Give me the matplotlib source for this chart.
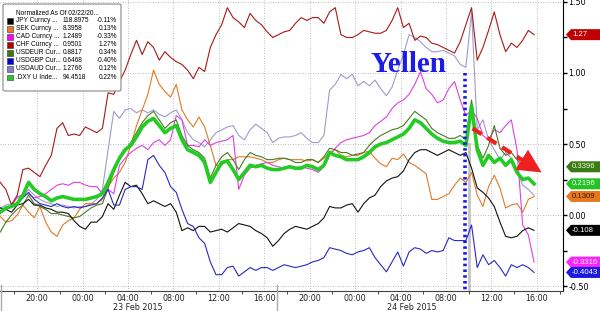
import matplotlib
matplotlib.use('Agg')
import matplotlib.pyplot as plt
import matplotlib.dates as mdates
import matplotlib.transforms as mtransforms
from matplotlib.patches import Polygon, Rectangle, FancyBboxPatch
from matplotlib.lines import Line2D
import pandas as pd

plt.rcParams['axes.unicode_minus'] = False
plt.rcParams['font.family'] = ['DejaVu Sans']

# half-hourly readings, normalized change (%) since 02/22
times = pd.date_range('2015-02-22 16:45', periods=95, freq='30min')

chf = [0.23, 0.18, 0.07, 0.14, 0.32, 0.33, 0.30, 0.27, 0.35, 0.42,
       0.61, 0.65, 0.56, 0.57, 0.56, 0.62, 0.60, 0.58, 0.61, 0.86,
       0.85, 0.94, 1.02, 1.13, 1.23, 1.13, 1.22, 1.18, 1.09, 1.15,
       1.11, 1.08, 1.06, 1.02, 0.96, 1.04, 1.01, 1.18, 1.27, 1.34,
       1.46, 1.39, 1.36, 1.32, 1.42, 1.37, 1.34, 1.29, 1.25, 1.27,
       1.29, 1.30, 1.35, 1.39, 1.37, 1.39, 1.39, 1.35, 1.43, 1.46,
       1.27, 1.25, 1.25, 1.27, 1.30, 1.29, 1.28, 1.28, 1.30, 1.37,
       1.46, 1.32, 1.35, 1.23, 1.26, 1.25, 1.21, 1.20, 1.18, 1.16,
       1.14, 1.22, 1.34, 1.46, 1.09, 1.18, 1.30, 1.43, 1.27, 1.15,
       1.21, 1.18, 1.23, 1.30, 1.27]

jpy = [0.05, 0.04, 0.02, 0.07, 0.08, 0.11, 0.07, 0.07, 0.05, 0.04,
       0.02, 0.02, 0.01, -0.04, -0.08, -0.10, -0.05, -0.05, -0.01, 0.08,
       0.04, 0.14, 0.23, 0.20, 0.21, 0.15, 0.08, 0.10, 0.08, 0.06,
       0.08, 0.02, -0.11, -0.09, -0.11, -0.08, -0.08, -0.12, -0.11, -0.10,
       -0.12, -0.09, -0.06, -0.07, -0.08, -0.11, -0.13, -0.16, -0.22, -0.18,
       -0.13, -0.10, -0.08, -0.09, -0.10, -0.08, -0.06, -0.02, 0.06, 0.05,
       0.05, 0.07, 0.08, 0.02, 0.08, 0.12, 0.14, 0.20, 0.24, 0.26,
       0.27, 0.31, 0.39, 0.44, 0.46, 0.46, 0.44, 0.42, 0.44, 0.46,
       0.44, 0.42, 0.44, 0.33, 0.19, 0.16, 0.12, 0.06, -0.05, -0.15,
       -0.16, -0.15, -0.11, -0.09, -0.108]

usdgbp = [0.02, 0.04, 0.06, 0.08, 0.12, 0.16, 0.11, 0.08, 0.07, 0.06,
          0.08, 0.06, 0.05, 0.06, 0.05, 0.06, 0.07, 0.08, 0.12, 0.18,
          0.07, 0.07, 0.18, 0.20, 0.20, 0.18, 0.39, 0.42, 0.35, 0.30,
          0.20, 0.16, 0.04, -0.06, -0.08, -0.16, -0.20, -0.33, -0.42, -0.42,
          -0.37, -0.36, -0.43, -0.40, -0.37, -0.39, -0.37, -0.37, -0.39, -0.37,
          -0.35, -0.36, -0.37, -0.36, -0.35, -0.33, -0.32, -0.30, -0.23, -0.24,
          -0.25, -0.27, -0.28, -0.26, -0.25, -0.23, -0.30, -0.35, -0.40, -0.33,
          -0.26, -0.36, -0.26, -0.23, -0.24, -0.27, -0.25, -0.26, -0.25, -0.16,
          -0.18, -0.18, -0.18, -0.07, -0.37, -0.28, -0.35, -0.32, -0.37, -0.43,
          -0.35, -0.37, -0.35, -0.37, -0.4043]

dxy = [0.02, 0.05, 0.06, 0.08, 0.14, 0.23, 0.18, 0.15, 0.13, 0.10,
       0.12, 0.13, 0.12, 0.11, 0.11, 0.11, 0.12, 0.13, 0.15, 0.23,
       0.32, 0.40, 0.46, 0.49, 0.55, 0.62, 0.66, 0.68, 0.63, 0.58,
       0.61, 0.63, 0.53, 0.46, 0.44, 0.42, 0.37, 0.23, 0.30, 0.37,
       0.38, 0.32, 0.25, 0.30, 0.35, 0.34, 0.35, 0.33, 0.32, 0.32,
       0.33, 0.34, 0.33, 0.33, 0.35, 0.34, 0.32, 0.35, 0.44, 0.42,
       0.41, 0.39, 0.39, 0.39, 0.41, 0.44, 0.48, 0.50, 0.51, 0.53,
       0.55, 0.57, 0.61, 0.67, 0.65, 0.61, 0.57, 0.54, 0.52, 0.51,
       0.51, 0.52, 0.49, 0.77, 0.46, 0.35, 0.42, 0.37, 0.40, 0.35,
       0.39, 0.30, 0.25, 0.26, 0.2196]

usdeur = [-0.12, -0.05, 0.00, 0.04, 0.07, 0.14, 0.08, 0.06, 0.04, 0.01,
          0.01, 0.00, -0.01, -0.02, -0.01, 0.02, 0.05, 0.07, 0.08, 0.19,
          0.30, 0.39, 0.46, 0.51, 0.58, 0.65, 0.70, 0.73, 0.67, 0.61,
          0.65, 0.67, 0.56, 0.49, 0.46, 0.44, 0.40, 0.26, 0.35, 0.41,
          0.44, 0.39, 0.32, 0.39, 0.44, 0.42, 0.41, 0.39, 0.39, 0.40,
          0.40, 0.39, 0.37, 0.37, 0.39, 0.39, 0.37, 0.41, 0.47, 0.46,
          0.44, 0.44, 0.42, 0.43, 0.44, 0.49, 0.53, 0.56, 0.58, 0.60,
          0.61, 0.63, 0.68, 0.73, 0.70, 0.67, 0.61, 0.58, 0.56, 0.54,
          0.54, 0.56, 0.53, 0.81, 0.49, 0.40, 0.49, 0.63, 0.47, 0.42,
          0.44, 0.39, 0.35, 0.37, 0.3396]

sek = [-0.01, -0.05, -0.04, 0.00, 0.07, 0.02, -0.02, 0.06, -0.05, -0.12,
       -0.15, -0.07, -0.04, -0.02, 0.04, 0.08, 0.08, 0.08, 0.11, 0.20,
       0.26, 0.30, 0.37, 0.49, 0.63, 0.74, 0.85, 1.02, 0.92, 0.87,
       0.83, 0.92, 0.74, 0.67, 0.62, 0.69, 0.62, 0.49, 0.35, 0.35,
       0.39, 0.39, 0.41, 0.41, 0.41, 0.40, 0.39, 0.37, 0.37, 0.39,
       0.40, 0.39, 0.39, 0.39, 0.38, 0.39, 0.37, 0.40, 0.44, 0.46,
       0.42, 0.41, 0.42, 0.42, 0.44, 0.45, 0.40, 0.36, 0.34, 0.40,
       0.39, 0.43, 0.37, 0.35, 0.32, 0.29, 0.11, 0.11, 0.13, 0.15,
       0.21, 0.26, 0.23, 0.30, 0.14, 0.06, 0.20, 0.28, 0.19, 0.05,
       0.07, 0.08, 0.02, 0.11, 0.1309]

cad = [0.01, 0.04, 0.06, 0.13, 0.14, 0.15, 0.12, 0.13, 0.15, 0.18,
       0.21, 0.22, 0.21, 0.23, 0.23, 0.21, 0.20, 0.20, 0.15, 0.18,
       0.15, 0.35, 0.40, 0.44, 0.47, 0.49, 0.46, 0.51, 0.53, 0.49,
       0.53, 0.70, 0.67, 0.49, 0.49, 0.48, 0.53, 0.49, 0.51, 0.52,
       0.53, 0.56, 0.18, 0.28, 0.33, 0.35, 0.36, 0.37, 0.35, 0.34,
       0.33, 0.34, 0.33, 0.34, 0.33, 0.32, 0.30, 0.34, 0.42, 0.47,
       0.51, 0.53, 0.54, 0.55, 0.56, 0.58, 0.63, 0.66, 0.69, 0.75,
       0.79, 0.81, 0.85, 0.92, 1.01, 0.89, 0.85, 0.79, 0.81, 0.89,
       0.94, 0.81, 0.70, 0.74, 0.68, 0.56, 0.53, 0.60, 0.58, 0.63,
       0.67, 0.46, -0.07, -0.14, -0.3316]

usdaud = [0.05, 0.07, 0.08, 0.12, 0.13, 0.18, 0.14, 0.11, 0.09, 0.08,
          0.06, 0.07, 0.06, 0.05, 0.06, 0.06, 0.08, 0.11, 0.18, 0.46,
          0.73, 0.68, 0.74, 0.75, 0.72, 0.74, 0.72, 0.74, 0.71, 0.69,
          0.72, 0.74, 0.67, 0.58, 0.53, 0.51, 0.48, 0.53, 0.58, 0.60,
          0.62, 0.63, 0.56, 0.53, 0.60, 0.64, 0.61, 0.58, 0.51, 0.54,
          0.55, 0.55, 0.56, 0.58, 0.54, 0.51, 0.51, 0.56, 0.88, 0.92,
          0.99, 0.96, 0.99, 0.91, 0.94, 0.91, 0.95, 0.89, 0.84, 0.90,
          1.02, 1.13, 1.27, 1.25, 1.22, 1.18, 1.15, 1.15, 1.16, 1.14,
          1.12, 1.06, 1.04, 1.43, 0.60, 0.67, 0.53, 0.46, 0.39, 0.44,
          0.40, 0.32, 0.21, 0.18, 0.14]

legend_names = ['JPY Curncy ...', 'SEK Curncy ...', 'CAD Curncy ...', 'CHF Curncy ...',
                'USDEUR Cur...', 'USDGBP Cur...', 'USDAUD Cur...', '.DXY U Inde...']
legend_last = ['118.8975', '8.3958', '1.2489', '0.9501', '0.8817', '0.6468', '1.2766', '94.4518']
legend_pct = ['-0.11%', '0.13%', '-0.33%', '1.27%', '0.34%', '-0.40%', '0.12%', '0.22%']
legend_colors = ['#000000', '#f07820', '#ff00ff', '#b00000', '#3a7a10', '#0000e0', '#8080d0', '#22cc22']

tag_values = [1.27, 0.3396, 0.2196, 0.1309, -0.108, -0.3316, -0.4043]
tag_text = ['1.27', '0.3396', '0.2196', '0.1309', '-0.108', '-0.3316', '-0.4043']
tag_colors = ['#c00000', '#3c7a14', '#22c422', '#e8781e', '#000000', '#ff22ff', '#1a1ae0']
tag_fg = ['white', '#e8ffe0', 'white', '#3a1800', 'white', 'white', 'white']


fig = plt.figure(figsize=(6, 3.11), dpi=100)
ax = fig.add_axes([0, 20 / 311, 563 / 600, 291 / 311])

# series, back to front
ax.plot(times, usdaud, color='#9c9ccc', lw=0.8)
ax.plot(times, sek, color='#e07a28', lw=0.8)
ax.plot(times, cad, color='#e040e0', lw=0.8)
ax.plot(times, usdeur, color='#4a7a20', lw=0.8)
ax.plot(times, chf, color='#a81818', lw=0.8)
ax.plot(times, jpy, color='#111111', lw=0.8)
ax.plot(times, usdgbp, color='#2a2ac0', lw=0.8)
ax.plot(times, dxy, color='#22cc22', lw=2.6)

ax.set_xlim(pd.Timestamp('2015-02-22 16:44'), pd.Timestamp('2015-02-24 18:18'))
ax.set_ylim(-0.535, 1.514)

# grey session line behind the lines
t_sess = pd.Timestamp('2015-02-24 10:00')
ax.plot([t_sess, t_sess], [-0.535, 0.5], color='#c4c4c4', lw=2, zorder=0.5)

# axes styling
for s in ['left', 'top']:
    ax.spines[s].set_visible(False)
ax.spines['right'].set_linewidth(0.8)
ax.spines['bottom'].set_linewidth(0.8)
ax.spines['bottom'].set_color('#444444')

ax.xaxis.set_major_locator(mdates.HourLocator(byhour=[0, 4, 8, 12, 16, 20]))
ax.xaxis.set_major_formatter(mdates.DateFormatter('%H:%M'))
ax.xaxis.set_minor_locator(mdates.HourLocator(byhour=[2, 6, 10, 14, 18, 22]))
ax.tick_params(axis='x', which='major', length=0, labelsize=5.8, pad=2, colors='#222222')
ax.tick_params(axis='x', which='minor', length=2.5, width=0.7, color='#444444')

ax.yaxis.tick_right()
ax.set_yticks([-0.5, 0.0, 0.5, 1.0, 1.5])
ax.set_yticks([-0.25, 0.25, 0.75, 1.25], minor=True)
ax.yaxis.set_major_formatter(plt.FormatStrFormatter('%.2f'))
ax.tick_params(axis='y', which='both', direction='out', length=3, width=1, labelsize=5.8, pad=1)

ax.grid(which='major', color='#a8a8a8', linestyle=(0, (1, 2)), lw=0.6)
ax.set_axisbelow(True)

# Yellen marker
t_y = pd.Timestamp('2015-02-24 09:40')
ax.plot([t_y, t_y], [1.0, -0.535], color='#1a1ae8', lw=2.6,
        linestyle=(0, (0.7, 0.9)), zorder=6)
ax.text(pd.Timestamp('2015-02-24 04:42'), 1.005, 'Yellen', family='Liberation Serif',
        fontweight='bold', fontsize=21, color='#1c1ce6', ha='center', va='baseline', zorder=7)

# red dashed arrow: dashed shaft + solid head
a_start = (mdates.date2num(pd.Timestamp('2015-02-24 10:20')), 0.61)
a_tip = (mdates.date2num(pd.Timestamp('2015-02-24 16:25')), 0.30)


def along(f):
    return (a_start[0] + f * (a_tip[0] - a_start[0]),
            a_start[1] + f * (a_tip[1] - a_start[1]))


ax.plot([a_start[0], along(0.74)[0]], [a_start[1], along(0.74)[1]], color='#ee2020', lw=3,
        linestyle=(0, (2.6, 1.6)), solid_capstyle='butt', zorder=7)
ax.annotate('', xy=a_tip, xytext=along(0.3),
            arrowprops=dict(arrowstyle='-|>,head_length=1.7,head_width=0.85',
                            facecolor='#ee2020', edgecolor='#ee2020', lw=0.01,
                            shrinkA=0, shrinkB=0),
            zorder=7)

# right-hand value tags
blend = mtransforms.blended_transform_factory(ax.transAxes, ax.transData)
hh = 5.5 / 142
for val, txt, c, fg in zip(tag_values, tag_text, tag_colors, tag_fg):
    poly = Polygon([(1.0053, val), (1.0142, val + hh), (1.07, val + hh),
                    (1.07, val - hh), (1.0142, val - hh)],
                   closed=True, facecolor=c, edgecolor='none',
                   transform=blend, clip_on=False, zorder=8)
    ax.add_patch(poly)
    ax.text(1.016, val, txt, transform=blend, fontsize=5.6, color=fg,
            ha='left', va='center', clip_on=False, zorder=9,
            family='Liberation Sans')

# date labels under the time axis
fig.text(138 / 600, 1 - 307 / 311, '23 Feb 2015', fontsize=5.8, ha='center', va='center', color='#222222')
fig.text(412 / 600, 1 - 307 / 311, '24 Feb 2015', fontsize=5.8, ha='center', va='center', color='#222222')
for xp in [0.5, 277]:
    fig.add_artist(Line2D([xp / 600, xp / 600], [0, 1 - 285 / 311], color='#aaaaaa', lw=1))


# legend box (pixel coords -> figure fraction)
def fx(x):
    return x / 600


def fy(y):
    return 1 - y / 311


box = FancyBboxPatch((fx(3), fy(91)), fx(118), 87 / 311,
                     boxstyle='round,pad=0,rounding_size=0.004',
                     transform=fig.transFigure, facecolor='white',
                     edgecolor='#888888', lw=0.8, zorder=10)
fig.add_artist(box)
fs_leg = 4.7
fig.text(fx(16), fy(13.3), 'Normalized As Of 02/22/20...', fontsize=fs_leg,
         va='center', ha='left', family='Liberation Sans', zorder=11)
row_y = [20.7, 28.7, 36.7, 45, 52.7, 61, 69, 77.3]
for ry, name, last, pct, c in zip(row_y, legend_names, legend_last, legend_pct, legend_colors):
    fig.add_artist(Rectangle((fx(7), fy(ry + 2.8)), fx(5.5), 5.5 / 311,
                             transform=fig.transFigure, facecolor=c,
                             edgecolor='#333333', lw=0.4, zorder=11))
    fig.text(fx(16), fy(ry), name, fontsize=fs_leg, va='center', ha='left',
             family='Liberation Sans', zorder=11)
    fig.text(fx(63), fy(ry), last, fontsize=fs_leg, va='center', ha='left',
             family='Liberation Sans', zorder=11)
    fig.text(fx(117), fy(ry), pct, fontsize=fs_leg, va='center', ha='right',
             family='Liberation Sans', zorder=11)

fig.savefig('out.png', dpi=100)
